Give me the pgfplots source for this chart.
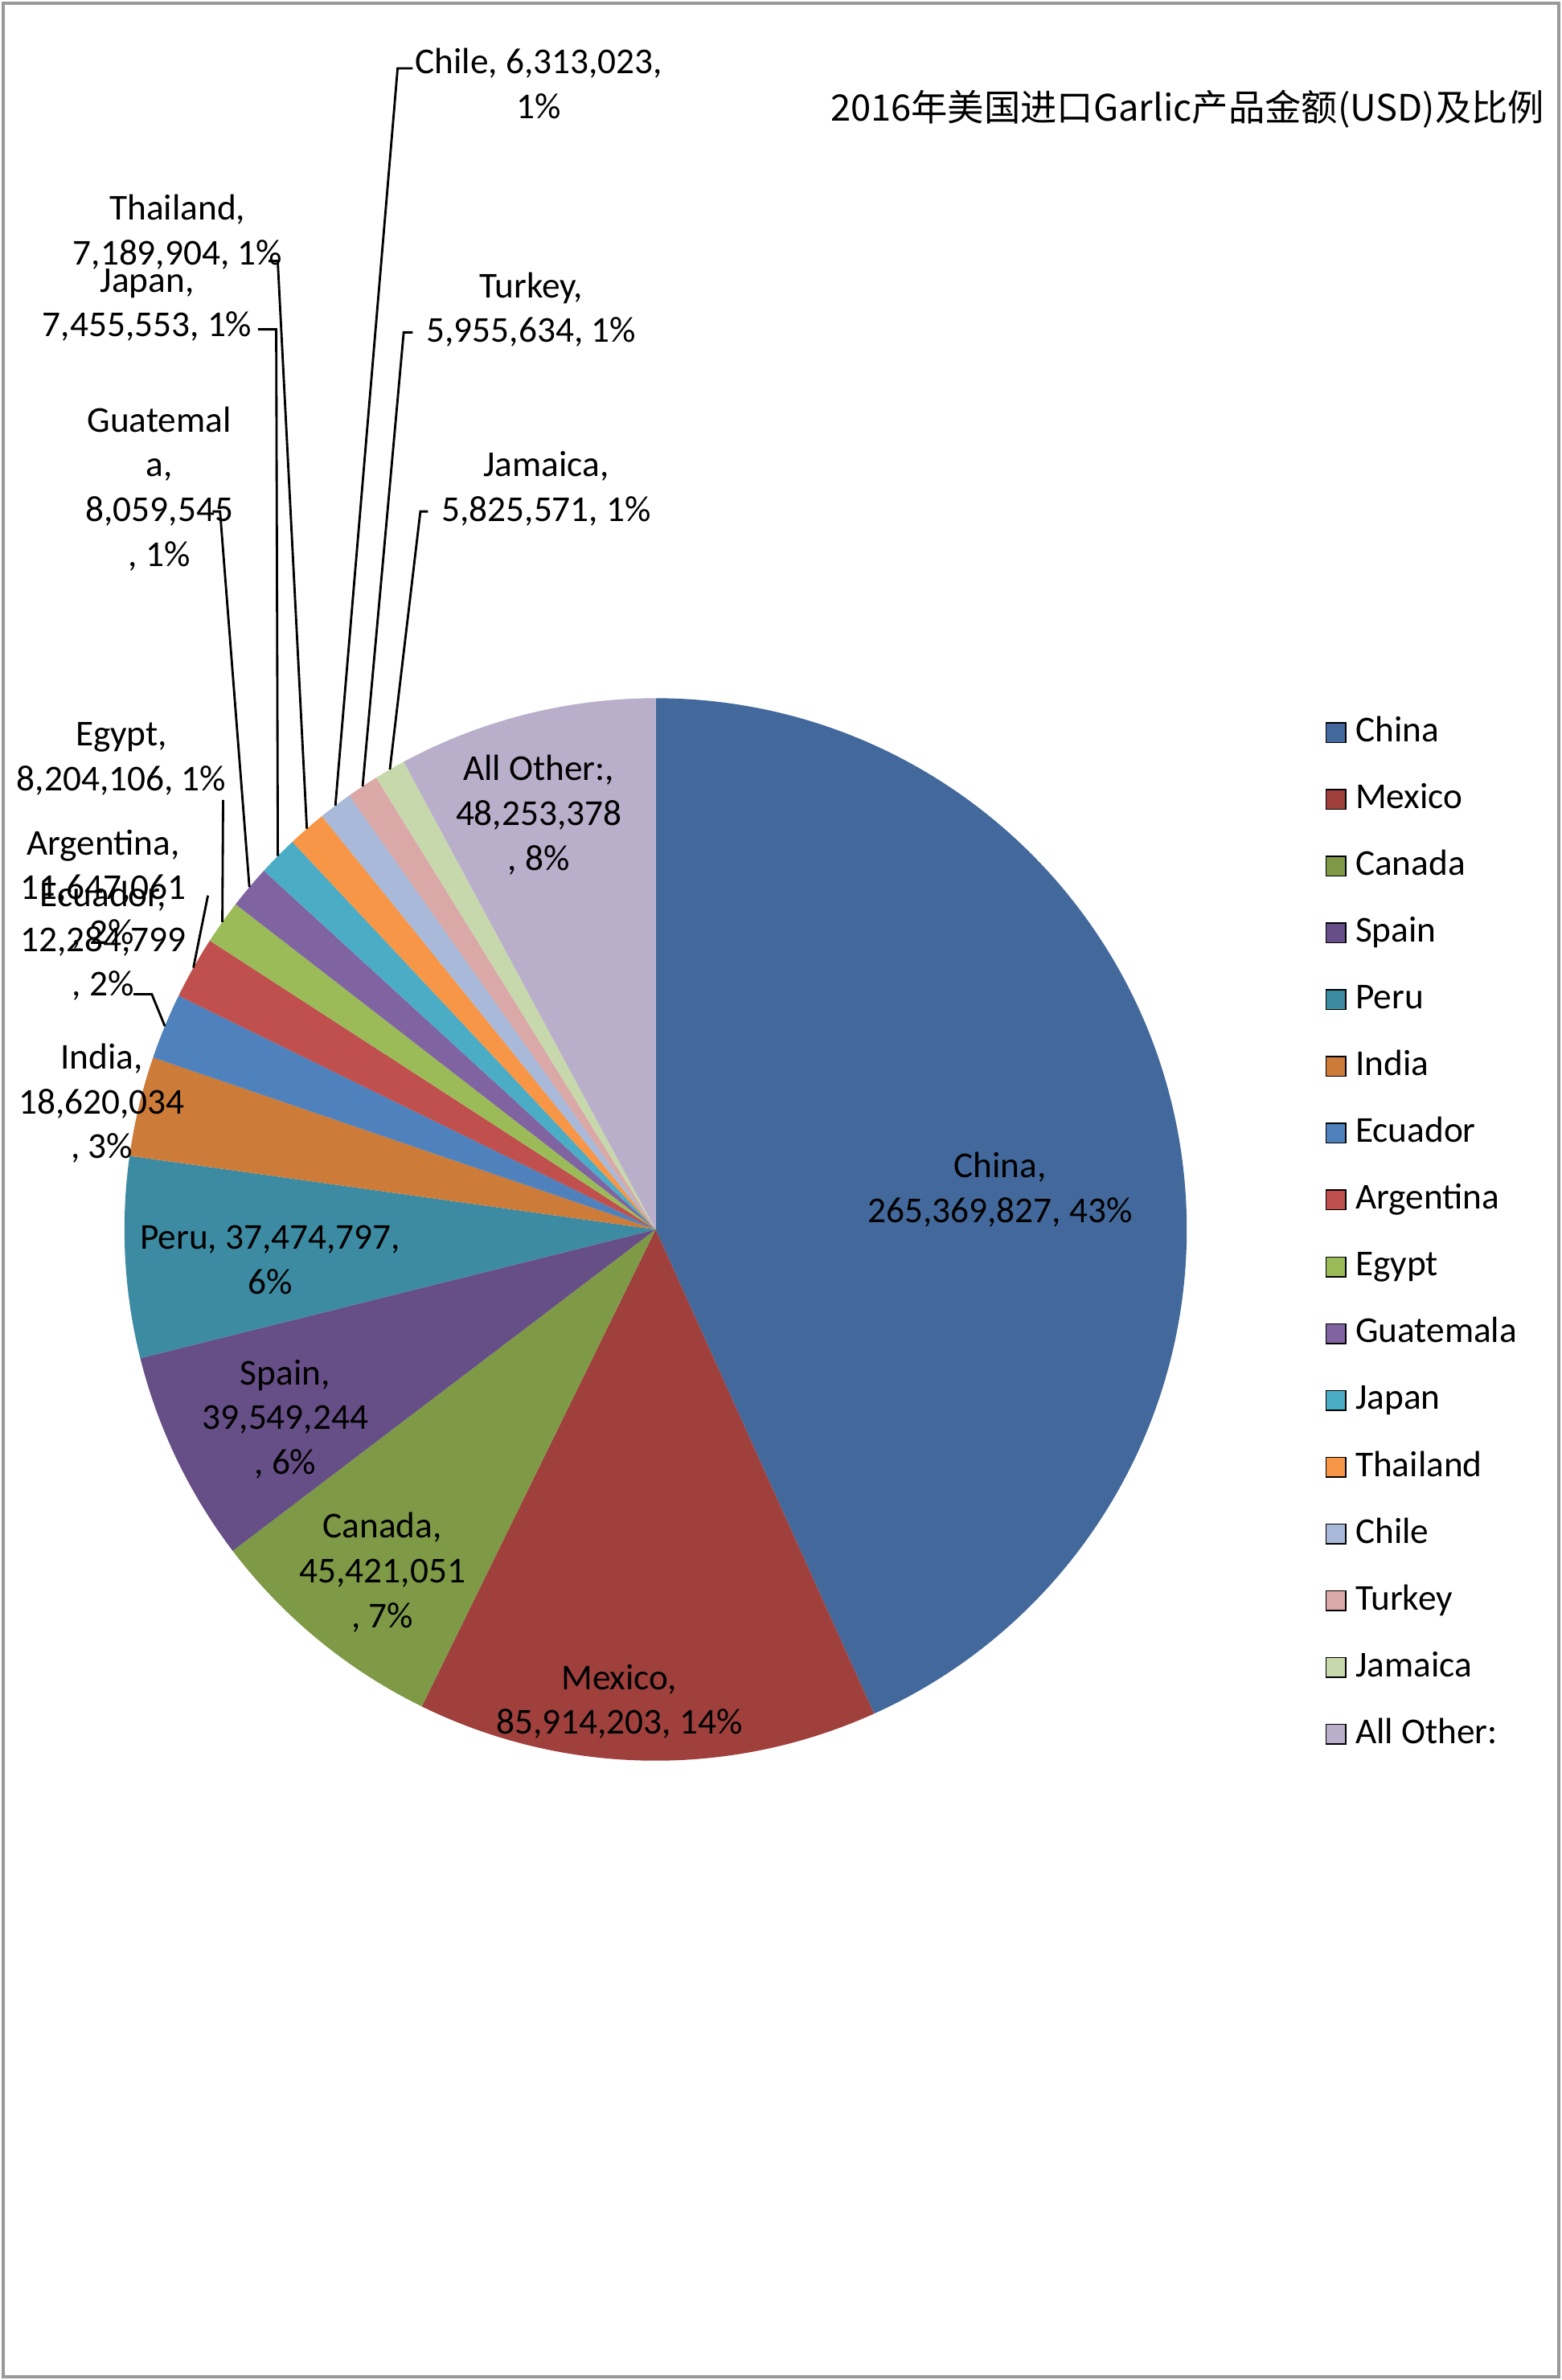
\documentclass[border=0pt]{standalone}
\usepackage{pgfplots}
\usepackage{pgfplotstable}
\pgfplotsset{compat=1.18}
\usepackage{fontspec}
\setmainfont{Carlito}
\newfontfamily\cjk{Noto Sans CJK SC}

\definecolor{China}{HTML}{43699C}
\definecolor{Mexico}{HTML}{9F403D}
\definecolor{Canada}{HTML}{7E9A47}
\definecolor{Spain}{HTML}{664E86}
\definecolor{Peru}{HTML}{3D8BA2}
\definecolor{India}{HTML}{CC7B39}
\definecolor{Ecuador}{HTML}{4F81BD}
\definecolor{Argentina}{HTML}{C0504D}
\definecolor{Egypt}{HTML}{9BBB59}
\definecolor{Guatemala}{HTML}{8064A2}
\definecolor{Japan}{HTML}{4BACC6}
\definecolor{Thailand}{HTML}{F79646}
\definecolor{Chile}{HTML}{A8B9D9}
\definecolor{Turkey}{HTML}{D9A8A7}
\definecolor{Jamaica}{HTML}{C7D8AD}
\definecolor{AllOther}{HTML}{B9AFCB}

% US garlic imports 2016 (USD), clockwise from 12 o'clock
% lead: leader line; hx/kx/ky: start and knee of the leader (picture px)
\pgfplotstableread{
name value lead hx kx ky
China 265369827 0 0 0 0
Mexico 85914203 0 0 0 0
Canada 45421051 0 0 0 0
Spain 39549244 0 0 0 0
Peru 37474797 0 0 0 0
India 18620034 0 0 0 0
Ecuador 12284799 1 88 100 655
Argentina 11647061 1 137 137 590
Egypt 8204106 1 147 147 527
Guatemala 8059545 1 140 145 337
Japan 7455553 1 170 182 217
Thailand 7189904 1 177 183 172
Chile 6313023 1 272 262 45
Turkey 5955634 1 272 266 219
Jamaica 5825571 1 282 277 337
AllOther 48253378 0 0 0 0
}\imports

\begin{document}
\begin{tikzpicture}[font=\fontsize{12}{14.75}\selectfont,
  lbl/.style={align=center, inner sep=0pt}]
\useasboundingbox (0,0) rectangle (514.5pt,784pt);
\draw[black!40, line width=1pt] (1pt,1pt) rectangle (513.5pt,783pt);

\pgfplotstablegetrowsof{\imports}
\pgfmathtruncatemacro\lastrow{\pgfplotsretval-1}
\def\total{0}
\pgfplotsforeachungrouped \i in {0,...,\lastrow}{%
  \pgfplotstablegetelem{\i}{value}\of\imports
  \edef\total{\fpeval{\total+\pgfplotsretval}}}

\begin{axis}[
  at={(216pt,379pt)}, anchor=center,
  scale only axis, width=350pt, height=350pt,
  xmin=-1, xmax=1, ymin=-1, ymax=1,
  axis lines=none, clip=false,
  legend image code/.code={\fill (0pt,-3.25pt) rectangle (6.5pt,3.25pt);},
  legend cell align=left,
  legend style={at={(1.1214,0.9897)}, anchor=north west, draw=none, fill=none,
    row sep=11pt, nodes={inner sep=0pt, text height=8.5pt, text depth=2.5pt},
    /tikz/every odd column/.append style={column sep=3pt}},
]
\def\cum{0}
\pgfplotsforeachungrouped \i in {0,...,\lastrow}{%
  \pgfplotstablegetelem{\i}{name}\of\imports \let\n\pgfplotsretval
  \pgfplotstablegetelem{\i}{value}\of\imports \let\v\pgfplotsretval
  \edef\a{\fpeval{90-360*\cum/\total}}%
  \edef\cum{\fpeval{\cum+\v}}%
  \edef\b{\fpeval{90-360*\cum/\total}}%
  \edef\m{\fpeval{(\a+\b)/2}}%
  \edef\temp{\noexpand\fill[\n] (axis cs:0,0) -- (axis cs:{cos(\a)},{sin(\a)})
    arc[start angle=\a, end angle=\b, radius=175pt] -- cycle;}%
  \temp
  \pgfplotstablegetelem{\i}{lead}\of\imports
  \ifnum\pgfplotsretval=1
    \pgfplotstablegetelem{\i}{hx}\of\imports \let\hx\pgfplotsretval
    \pgfplotstablegetelem{\i}{kx}\of\imports \let\kx\pgfplotsretval
    \pgfplotstablegetelem{\i}{ky}\of\imports \let\ky\pgfplotsretval
    \edef\temp{\noexpand\draw[line width=0.75pt]
      (axis cs:{(\hx-432)/350},{(810-\ky)/350}) --
      (axis cs:{(\kx-432)/350},{(810-\ky)/350}) --
      (axis cs:{cos(\m)},{sin(\m)});}%
    \temp
  \fi
}

\addlegendimage{fill=China}\addlegendentry{China}
\addlegendimage{fill=Mexico}\addlegendentry{Mexico}
\addlegendimage{fill=Canada}\addlegendentry{Canada}
\addlegendimage{fill=Spain}\addlegendentry{Spain}
\addlegendimage{fill=Peru}\addlegendentry{Peru}
\addlegendimage{fill=India}\addlegendentry{India}
\addlegendimage{fill=Ecuador}\addlegendentry{Ecuador}
\addlegendimage{fill=Argentina}\addlegendentry{Argentina}
\addlegendimage{fill=Egypt}\addlegendentry{Egypt}
\addlegendimage{fill=Guatemala}\addlegendentry{Guatemala}
\addlegendimage{fill=Japan}\addlegendentry{Japan}
\addlegendimage{fill=Thailand}\addlegendentry{Thailand}
\addlegendimage{fill=Chile}\addlegendentry{Chile}
\addlegendimage{fill=Turkey}\addlegendentry{Turkey}
\addlegendimage{fill=Jamaica}\addlegendentry{Jamaica}
\addlegendimage{fill=AllOther}\addlegendentry{All Other:}
\end{axis}

% data labels
\node[lbl] at (329.5pt,392pt) {China,\\265,369,827, 43\%};
\node[lbl] at (204pt,223.5pt) {Mexico,\\85,914,203, 14\%};
\node[lbl] at (126pt,266pt) {Canada,\\45,421,051\\, 7\%};
\node[lbl] at (94pt,316.5pt) {Spain,\\39,549,244\\, 6\%};
\node[lbl] at (89pt,369pt) {Peru, 37,474,797,\\6\%};
\node[lbl] at (33.5pt,420.5pt) {India,\\18,620,034\\, 3\%};
\node[lbl] at (34pt,474pt) {Ecuador,\\12,284,799\\, 2\%};
\node[lbl] at (34pt,491pt) {Argentina,\\11,647,061\\, 2\%};
\node[lbl] at (40pt,534pt) {Egypt,\\8,204,106, 1\%};
\node[lbl] at (52.5pt,623pt) {Guatemal\\a,\\8,059,545\\, 1\%};
\node[lbl] at (48.5pt,683.5pt) {Japan,\\7,455,553, 1\%};
\node[lbl] at (58.5pt,707.5pt) {Thailand,\\7,189,904, 1\%};
\node[lbl] at (177.5pt,756.5pt) {Chile, 6,313,023,\\1\%};
\node[lbl] at (175pt,682pt) {Turkey,\\5,955,634, 1\%};
\node[lbl] at (180pt,623pt) {Jamaica,\\5,825,571, 1\%};
\node[lbl] at (177.5pt,515.5pt) {All Other:,\\48,253,378\\, 8\%};

\node[anchor=east, inner sep=0pt, font=\cjk\fontsize{12}{14}\selectfont]
  at (509pt,748pt) {2016年美国进口Garlic产品金额(USD)及比例};
\end{tikzpicture}
\end{document}
